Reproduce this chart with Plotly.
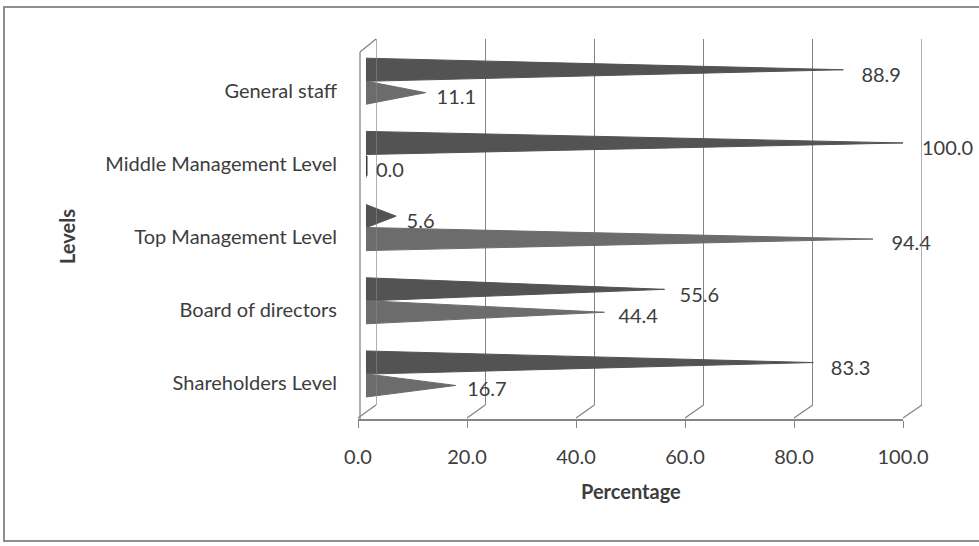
import plotly.graph_objects as go

# ---- data -------------------------------------------------------------
categories = [
    "General staff",
    "Middle Management Level",
    "Top Management Level",
    "Board of directors",
    "Shareholders Level",
]
series_a = [88.9, 100.0, 5.6, 55.6, 83.3]   # upper cone of each pair
series_b = [11.1, 0.0, 94.4, 44.4, 16.7]    # lower cone of each pair
x_ticks = [0, 20, 40, 60, 80, 100]

# ---- page geometry (pixels) -------------------------------------------
W, H = 979, 546
BACK = (376, 922)      # back wall, carries the gridlines
FRONT = (358, 903)     # front edge of the floor, carries the tick labels
CONE = (366, 903)      # depth at which the cones sit
WALL_TOP, WALL_BOTTOM, FRONT_Y = 39, 405, 420

TEXT = "#3d3d3d"
FONT = "Lato"
FS = 20
COLOR_A = "#535353"
COLOR_B = "#6c6c6c"
GRID = "#858585"
HALF = 0.158           # half height of a cone, in category units


def px(x):
    return x / W


def py(y):
    return 1 - y / H


n = len(categories)
pos = [n - 1 - i for i in range(n)]

fig = go.Figure()

# cones
for vals, off, lab_off, color in (
    (series_a, 0.08, -0.02, COLOR_A),
    (series_b, -0.233, -0.315, COLOR_B),
):
    for p, v in zip(pos, vals):
        c = p + off
        fig.add_trace(go.Scatter(
            x=[0, v, 0, 0], y=[c + HALF, c, c - HALF, c + HALF],
            mode="lines", fill="toself", fillcolor=color,
            line=dict(color=color, width=1),
            xaxis="x3", yaxis="y", hoverinfo="skip", showlegend=False,
        ))
        fig.add_trace(go.Scatter(
            x=[0, 0], y=[c - HALF * 0.85, c + HALF * 0.85],
            mode="lines", line=dict(color="#3a3a3a" if v == 0 else color, width=3),
            xaxis="x3", yaxis="y", hoverinfo="skip", showlegend=False,
        ))
    fig.add_trace(go.Scatter(
        x=vals, y=[p + lab_off for p in pos],
        mode="text", text=[f"{v:.1f}" for v in vals],
        textposition="middle right", cliponaxis=False,
        textfont=dict(family=FONT, size=FS, color=TEXT),
        xaxis="x", yaxis="y", hoverinfo="skip", showlegend=False,
    ))

# invisible carrier so the front axis is drawn
fig.add_trace(go.Scatter(x=[0, 100], y=[0, 0], mode="markers",
                         marker=dict(opacity=0), xaxis="x2", yaxis="y",
                         hoverinfo="skip", showlegend=False))

shapes = []
line_style = dict(color=GRID, width=1.3)
# outer gridlines of the back wall (plotly skips those on the domain edges)
for t in (x_ticks[0], x_ticks[-1]):
    shapes.append(dict(type="line", xref="x", yref="paper",
                       x0=t, x1=t, y0=py(WALL_BOTTOM), y1=py(WALL_TOP),
                       line=line_style))
# floor edges joining the front ticks to the back-wall gridlines
for t in x_ticks:
    fx = FRONT[0] + (FRONT[1] - FRONT[0]) * t / 100
    bx = BACK[0] + (BACK[1] - BACK[0]) * t / 100
    shapes.append(dict(type="line", xref="paper", yref="paper",
                       x0=px(fx), y0=py(FRONT_Y - 2), x1=px(bx), y1=py(WALL_BOTTOM),
                       line=line_style))
# side wall
shapes.append(dict(type="line", xref="paper", yref="paper",
                   x0=px(FRONT[0] + 2), y0=py(52), x1=px(FRONT[0] + 2), y1=py(FRONT_Y),
                   line=line_style))
shapes.append(dict(type="line", xref="paper", yref="paper",
                   x0=px(FRONT[0] + 2), y0=py(52), x1=px(BACK[0]), y1=py(WALL_TOP),
                   line=line_style))
# outer frame of the chart area
shapes.append(dict(type="rect", xref="paper", yref="paper",
                   x0=px(4), y0=py(541), x1=px(990), y1=py(7),
                   line=dict(color="#8e8e8e", width=2)))

fig.update_layout(
    width=W, height=H,
    margin=dict(l=0, r=0, t=0, b=0, pad=0, autoexpand=False),
    paper_bgcolor="white", plot_bgcolor="rgba(0,0,0,0)",
    font=dict(family=FONT, size=FS, color=TEXT),
    showlegend=False,
    shapes=shapes,
    xaxis=dict(
        domain=[px(BACK[0]), px(BACK[1])], range=[0, 100],
        tickvals=x_ticks, showticklabels=False, ticks="",
        showgrid=True, gridcolor=GRID, gridwidth=1.3,
        zeroline=False, showline=False, anchor="y", fixedrange=True,
        automargin=False,
    ),
    xaxis2=dict(
        domain=[px(FRONT[0]), px(FRONT[1])], range=[0, 100],
        anchor="free", position=py(FRONT_Y), side="bottom",
        tickvals=x_ticks, ticktext=[f"{t:.1f}" for t in x_ticks],
        ticks="outside", ticklen=7, tickwidth=1.3, tickcolor=GRID,
        showline=True, linecolor=GRID, linewidth=2,
        showgrid=False, zeroline=False, ticklabelstandoff=12,
        tickfont=dict(family=FONT, size=FS, color=TEXT), fixedrange=True,
        automargin=False,
    ),
    xaxis3=dict(
        domain=[px(CONE[0]), px(CONE[1])], range=[0, 100],
        anchor="y", visible=False, fixedrange=True, automargin=False,
    ),
    yaxis=dict(
        domain=[py(WALL_BOTTOM), py(WALL_TOP)], range=[-0.5, n - 0.5],
        tickvals=[p - 0.205 for p in pos], ticktext=categories,
        anchor="free", position=px(337), side="left",
        showgrid=False, zeroline=False, showline=False, ticks="",
        tickfont=dict(family=FONT, size=FS, color=TEXT), fixedrange=True,
        automargin=False,
    ),
    annotations=[
        dict(text="<b>Percentage</b>", xref="paper", yref="paper",
             x=px(631), y=py(505), showarrow=False,
             font=dict(family=FONT, size=FS, color=TEXT)),
        dict(text="<b>Levels</b>", xref="paper", yref="paper",
             x=px(53), y=py(237), showarrow=False, textangle=-90,
             font=dict(family=FONT, size=FS, color=TEXT)),
    ],
)

fig.write_html("out.html")
